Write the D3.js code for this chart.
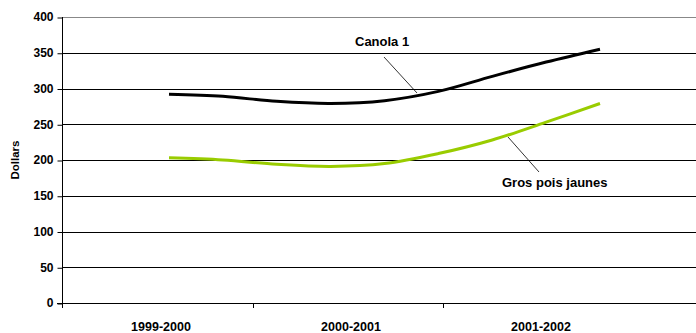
<!DOCTYPE html>
<html>
<head>
<meta charset="utf-8">
<style type="text/css">
body { margin: 0; background: #fff; }
text { font-family: Arial, "Liberation Sans", sans-serif; font-weight: bold; fill: #000; }
</style>
</head>
<body>
<svg class="chart" width="696" height="333"></svg>
<script src="https://cdn.jsdelivr.net/npm/d3@7"></script>
<script type="text/javascript">
var categories = ["1999-2000", "2000-2001", "2001-2002"];
var yTicks = [0, 50, 100, 150, 200, 250, 300, 350, 400];
// smoothed samples between first and last season
var samples = [0, 1, 2, 3, 4, 5, 6, 7, 8];
var canola = [292, 289, 282, 279, 283, 296, 317, 337, 355];
var grosPois = [203, 200, 194, 191, 195, 209, 228, 253, 279];

var svg = d3.select("svg"),
    plotLeft = 62, plotRight = 696, plotTop = 17, plotBottom = 303;

var x = d3.scaleBand().domain(categories).range([63, 633]);
var xs = d3.scaleLinear().domain([0, 8]).range([169, 600]);
var y = d3.scaleLinear().domain([0, 400]).range([plotBottom, plotTop]);

// gridlines
svg.append("g").selectAll("line")
    .data(yTicks.filter(function(d) { return d > 0; }))
    .enter().append("line")
    .attr("x1", plotLeft).attr("x2", plotRight)
    .attr("y1", function(d) { return Math.round(y(d)) + 0.5; })
    .attr("y2", function(d) { return Math.round(y(d)) + 0.5; })
    .attr("stroke", function(d) { return d === 400 ? "#888" : "#000"; })
    .attr("stroke-width", 1);

// y axis
var yAxis = svg.append("g")
    .attr("transform", "translate(" + (plotLeft + 0.5) + ",0)")
    .call(d3.axisLeft(y).tickValues(yTicks).tickSize(5).tickPadding(4));
yAxis.select(".domain").attr("d", "M0," + plotTop + "V" + (plotBottom + 5));
yAxis.selectAll(".tick line").attr("transform", "translate(0,0.5)");
yAxis.selectAll("text")
    .style("font-size", "12px")
    .style("font-weight", "bold")
    .style("font-family", "Arial, 'Liberation Sans', sans-serif");

// x axis
svg.append("line")
    .attr("x1", plotLeft - 5).attr("x2", plotRight)
    .attr("y1", plotBottom + 0.5).attr("y2", plotBottom + 0.5)
    .attr("stroke", "#000");
svg.append("g").selectAll("line")
    .data(categories.slice(1))
    .enter().append("line")
    .attr("x1", function(d) { return Math.round(x(d)) + 0.5; })
    .attr("x2", function(d) { return Math.round(x(d)) + 0.5; })
    .attr("y1", plotBottom).attr("y2", plotBottom + 5)
    .attr("stroke", "#000");
svg.append("g").selectAll("text")
    .data(categories)
    .enter().append("text")
    .attr("x", function(d) { return x(d) + x.bandwidth() / 2 + 3; })
    .attr("y", 331)
    .attr("text-anchor", "middle")
    .style("font-size", "12.5px")
    .text(function(d) { return d; });

svg.append("text")
    .attr("transform", "translate(19,160) rotate(-90)")
    .attr("text-anchor", "middle")
    .style("font-size", "11.5px")
    .text("Dollars");

// lines
var line = d3.line()
    .x(function(d) { return xs(d[0]); })
    .y(function(d) { return y(d[1]); })
    .curve(d3.curveCatmullRom);

svg.append("path")
    .datum(d3.zip(samples, canola))
    .attr("d", line)
    .attr("fill", "none")
    .attr("stroke", "#000")
    .attr("stroke-width", 3);

svg.append("path")
    .datum(d3.zip(samples, grosPois))
    .attr("d", line)
    .attr("fill", "none")
    .attr("stroke", "#99cc00")
    .attr("stroke-width", 3);

// labels with leaders
svg.append("line").attr("x1", 384).attr("y1", 57).attr("x2", 417).attr("y2", 93)
    .attr("stroke", "#000").attr("stroke-width", 0.8);
svg.append("text").attr("x", 355).attr("y", 46).style("font-size", "13px").text("Canola 1");

svg.append("line").attr("x1", 508).attr("y1", 137).attr("x2", 539).attr("y2", 172)
    .attr("stroke", "#000").attr("stroke-width", 0.8);
svg.append("text").attr("x", 502).attr("y", 187).style("font-size", "13px").text("Gros pois jaunes");
</script>
</body>
</html>
